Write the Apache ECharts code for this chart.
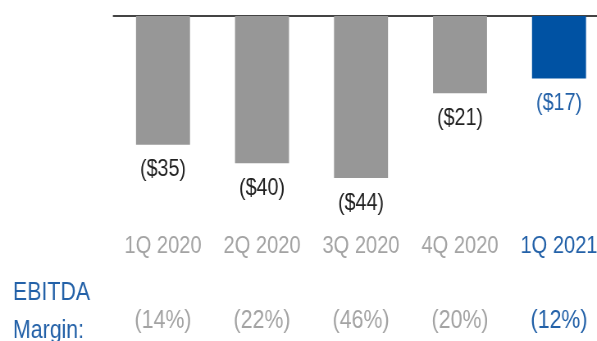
<!DOCTYPE html>
<html>
<head>
<meta charset="utf-8">
<script src="https://cdn.jsdelivr.net/npm/echarts@6/dist/echarts.min.js"></script>
<style>
  html, body { margin: 0; padding: 0; background: #ffffff; overflow: hidden; }
  #wrap { width: 597px; height: 341px; overflow: hidden; position: relative; }
  /* Chart is laid out wider and condensed horizontally so the
     Liberation Sans lettering reads as a narrow face. */
  #chart { width: 760px; height: 341px; transform: scaleX(0.82); transform-origin: 0 0; }
</style>
</head>
<body>
<div id="wrap"><div id="chart"></div></div>
<script>
// Quarterly EBITDA ($M) and EBITDA margin
const quarters = ['1Q 2020', '2Q 2020', '3Q 2020', '4Q 2020', '1Q 2021'];
const ebitda = [-35, -40, -44, -21, -17];
const margins = ['(14%)', '(22%)', '(46%)', '(20%)', '(12%)'];

const SX = 0.82;                 // horizontal condensing factor
const X = v => v / SX;           // screen px -> chart px (horizontal)
const FONT = "'Liberation Sans', Arial, sans-serif";
const GRAY_BAR = '#979797';
const BLUE_BAR = '#0052a3';
const GRAY_TEXT = '#a3a3a3';
const BLUE_TEXT = '#2361a8';
const latest = quarters.length - 1;

const chart = echarts.init(document.getElementById('chart'), null, { renderer: 'canvas' });

const catLabel = (value, idx) => idx === latest ? '{hi|' + value + '}' : '{lo|' + value + '}';
const rich = size => ({
  lo: { color: GRAY_TEXT, fontFamily: FONT, fontSize: size },
  hi: { color: BLUE_TEXT, fontFamily: FONT, fontSize: size }
});

chart.setOption({
  animation: false,
  grid: { left: X(113.5), width: X(495), top: 16, height: 184, containLabel: false },
  xAxis: [
    {
      type: 'category', data: quarters, position: 'top',
      axisLine: { show: true, lineStyle: { color: '#444444', width: 2 } },
      axisTick: { show: false }, axisLabel: { show: false }
    },
    {
      type: 'category', data: quarters, position: 'bottom',
      axisLine: { show: false }, axisTick: { show: false },
      axisLabel: { margin: 34, formatter: catLabel, rich: rich(24.5) }
    },
    {
      type: 'category', data: margins, position: 'bottom', offset: 75,
      axisLine: { show: false }, axisTick: { show: false },
      axisLabel: { margin: 33, formatter: catLabel, rich: rich(26) }
    }
  ],
  yAxis: {
    type: 'value', min: -50, max: 0, show: false,
    splitLine: { show: false }
  },
  series: [{
    type: 'bar',
    xAxisIndex: 0,
    barWidth: X(54),
    data: ebitda.map((v, i) => ({
      value: v,
      itemStyle: { color: i === latest ? BLUE_BAR : GRAY_BAR },
      label: { color: i === latest ? BLUE_TEXT : '#222222' }
    })),
    label: {
      show: true, position: 'bottom', distance: 13,
      fontFamily: FONT, fontSize: 24,
      formatter: p => '($' + Math.abs(p.value) + ')'
    }
  }],
  graphic: [{
    type: 'text', left: X(13), top: 274,
    style: {
      text: 'EBITDA\nMargin:', fill: BLUE_TEXT,
      font: '26px ' + FONT, lineHeight: 38
    }
  }]
});
</script>
</body>
</html>
